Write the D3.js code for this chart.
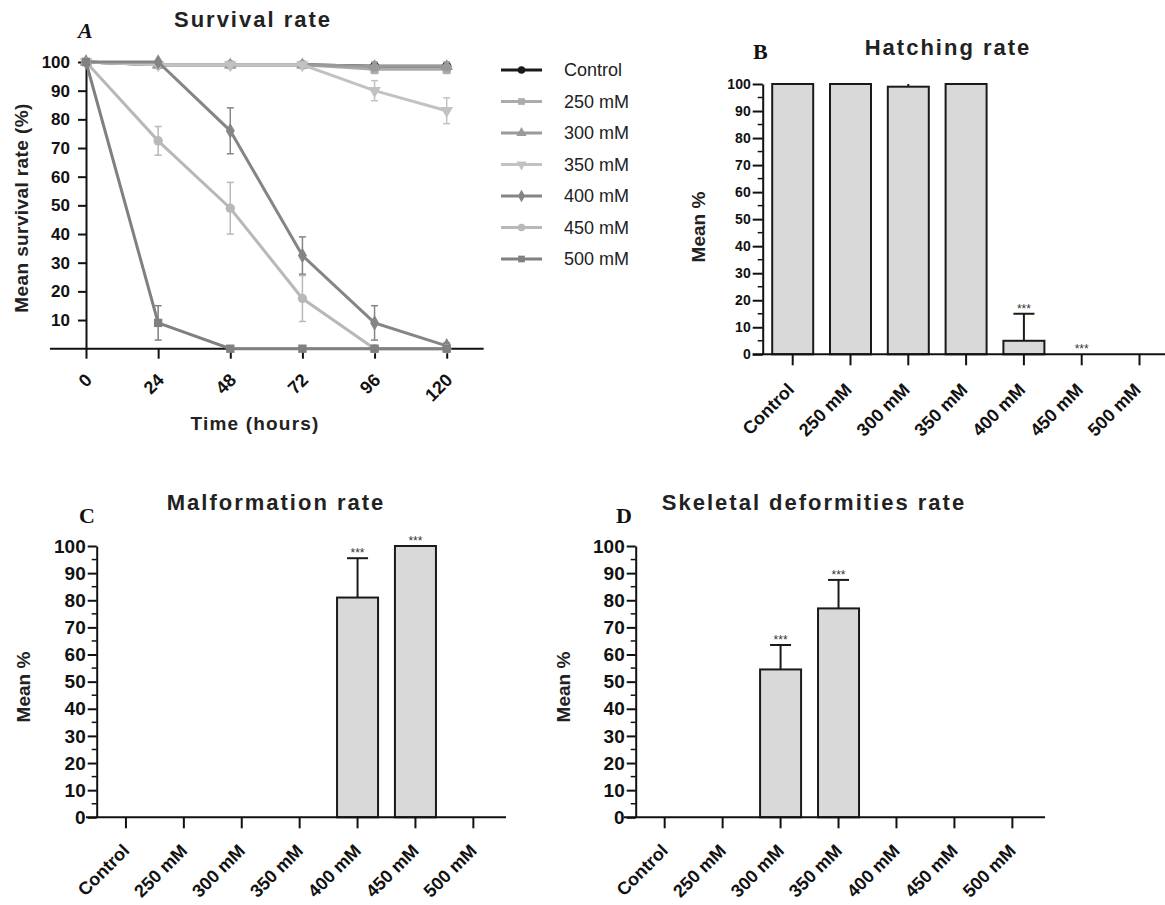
<!DOCTYPE html>
<html>
<head>
<meta charset="utf-8">
<script src="https://cdn.jsdelivr.net/npm/d3@7"></script>
<style>
  body { margin: 0; background: #fff; }
  svg { display: block; font-family: "Liberation Sans", Arial, sans-serif; }
</style>
</head>
<body>
<div id="chart"></div>
<script>
// ---- data ----
const hours = [0, 24, 48, 72, 96, 120];
const seriesNames = ["Control", "250 mM", "300 mM", "350 mM", "400 mM", "450 mM", "500 mM"];
const survControl = [100, 99, 99, 99, 98.5, 98.5];
const surv250 = [100, 99, 99, 99, 97.5, 97.5];
const surv300 = [100, 99, 99, 99, 98.5, 98.5];
const surv350 = [100, 99, 99, 99, 90, 83];
const surv400 = [100, 100, 76, 32.5, 9, 1];
const surv450 = [100, 72.5, 49, 17.5, 0, 0];
const surv500 = [100, 9, 0, 0, 0, 0];
const err250 = [0, 0, 0, 0, 1.5, 1.5];
const err300 = [0, 0, 0, 0, 1.5, 1.5];
const err350 = [0, 0, 0, 0, 3.5, 4.5];
const err400 = [0, 0, 8, 6.5, 6, 1];
const err450 = [0, 5, 9, 8, 0, 0];
const err500 = [0, 6, 0, 0, 0, 0];

const groups = ["Control", "250 mM", "300 mM", "350 mM", "400 mM", "450 mM", "500 mM"];
const hatching = [100, 100, 99, 100, 5, 0, 0];
const hatchingErr = [0, 0, 1, 0, 10, 0, 0];
const hatchingStars = ["", "", "", "", "***", "***", ""];
const malformation = [0, 0, 0, 0, 81, 100, 0];
const malformationErr = [0, 0, 0, 0, 14.5, 0, 0];
const malformationStars = ["", "", "", "", "***", "***", ""];
const skeletal = [0, 0, 54.5, 77, 0, 0, 0];
const skeletalErr = [0, 0, 9, 10.5, 0, 0, 0];
const skeletalStars = ["", "", "***", "***", "", "", ""];

const svg = d3.select("#chart").append("svg")
  .attr("width", 1165).attr("height", 905);

// ---- panel A: survival lines ----
const survival = [
  { name: "Control", vals: survControl, err: [0,0,0,0,0,0], color: "#1a1a1a", shape: d3.symbolCircle },
  { name: "250 mM", vals: surv250, err: err250, color: "#acacac", shape: d3.symbolSquare },
  { name: "300 mM", vals: surv300, err: err300, color: "#9a9a9a", shape: d3.symbolTriangle },
  { name: "350 mM", vals: surv350, err: err350, color: "#c2c2c2", shape: d3.symbolTriangle, flip: true },
  { name: "400 mM", vals: surv400, err: err400, color: "#858585", shape: d3.symbolDiamond },
  { name: "450 mM", vals: surv450, err: err450, color: "#b8b8b8", shape: d3.symbolCircle },
  { name: "500 mM", vals: surv500, err: err500, color: "#808080", shape: d3.symbolSquare }
];

const xA = d3.scaleLinear().domain([0, 120]).range([86, 446.7]);
const yA = d3.scaleLinear().domain([0, 100]).range([348.7, 62]);
const gA = svg.append("g");

// axes
gA.append("line").attr("x1", xA(-12)).attr("x2", xA(132.3))
  .attr("y1", yA(0)).attr("y2", yA(0)).attr("stroke", "#111").attr("stroke-width", 2);
const xAxisA = gA.append("g").attr("transform", `translate(0,${yA(0)})`)
  .call(d3.axisBottom(xA).tickValues(hours).tickSize(10).tickSizeOuter(0).tickFormat(d3.format("d")));
xAxisA.select(".domain").remove();
xAxisA.selectAll(".tick line").attr("stroke", "#111").attr("stroke-width", 2);
xAxisA.selectAll(".tick text")
  .attr("transform", "translate(2,28) rotate(-45)")
  .attr("text-anchor", "end").attr("dy", "0.35em").attr("x", 0).attr("y", 0)
  .style("font-size", "18px").style("font-weight", "bold").attr("fill", "#111");

const yAxisA = gA.append("g").attr("transform", `translate(${xA(0)},0)`)
  .call(d3.axisLeft(yA).tickValues(d3.range(10, 101, 10)).tickSize(8).tickSizeOuter(0));
yAxisA.select(".domain").attr("stroke", "#111").attr("stroke-width", 2);
yAxisA.selectAll(".tick line").attr("stroke", "#111").attr("stroke-width", 2);
yAxisA.selectAll(".tick text").attr("x", -16)
  .style("font-size", "17px").style("font-weight", "bold").attr("fill", "#111");

const lineA = d3.line().x((d, i) => xA(hours[i])).y(d => yA(d));
survival.forEach(s => {
  const g = gA.append("g");
  // error bars
  s.vals.forEach((v, i) => {
    const e = s.err[i];
    if (!e) return;
    const cx = xA(hours[i]);
    g.append("line").attr("x1", cx).attr("x2", cx).attr("y1", yA(v - e)).attr("y2", yA(v + e))
      .attr("stroke", s.color).attr("stroke-width", 1.5);
    [v - e, v + e].forEach(t => g.append("line").attr("x1", cx - 3.5).attr("x2", cx + 3.5)
      .attr("y1", yA(t)).attr("y2", yA(t)).attr("stroke", s.color).attr("stroke-width", 1.5));
  });
  g.append("path").datum(s.vals).attr("d", lineA).attr("fill", "none")
    .attr("stroke", s.color).attr("stroke-width", 3);
  g.selectAll("path.pt").data(s.vals).join("path").attr("class", "pt")
    .attr("d", d3.symbol().type(s.shape).size(70))
    .attr("transform", (d, i) => `translate(${xA(hours[i])},${yA(d)})` + (s.flip ? " rotate(180)" : ""))
    .attr("fill", s.color);
});

// legend
const legend = gA.append("g");
survival.forEach((s, i) => {
  const ly = 70 + i * 31.5;
  legend.append("line").attr("x1", 501).attr("x2", 542).attr("y1", ly).attr("y2", ly)
    .attr("stroke", s.color).attr("stroke-width", 3);
  legend.append("path").attr("d", d3.symbol().type(s.shape).size(45))
    .attr("transform", `translate(521.5,${ly})` + (s.flip ? " rotate(180)" : ""))
    .attr("fill", s.color);
  legend.append("text").attr("x", 564).attr("y", ly).attr("dy", "0.35em")
    .style("font-size", "18px").attr("fill", "#222").text(seriesNames[i]);
});

gA.append("text").attr("x", 253).attr("y", 27).attr("text-anchor", "middle")
  .style("font-size", "22px").style("font-weight", "bold").style("letter-spacing", "2px")
  .attr("fill", "#222").text("Survival rate");
gA.append("text").attr("x", 78).attr("y", 38)
  .style("font-family", "'Liberation Serif', serif").style("font-size", "22px")
  .style("font-weight", "bold").style("font-style", "italic").attr("fill", "#111").text("A");
gA.append("text").attr("transform", "translate(28,208) rotate(-90)").attr("text-anchor", "middle")
  .style("font-size", "19px").style("font-weight", "bold").style("letter-spacing", "0.4px")
  .attr("fill", "#222").text("Mean survival rate (%)");
gA.append("text").attr("x", 255).attr("y", 430).attr("text-anchor", "middle")
  .style("font-size", "19px").style("font-weight", "bold").style("letter-spacing", "1.2px")
  .attr("fill", "#222").text("Time (hours)");

// ---- bar panels ----
function barPanel(o) {
  const g = svg.append("g");
  const x = d3.scaleBand().domain(groups).range([o.x0, o.x0 + o.step * groups.length]).padding(0);
  const y = d3.scaleLinear().domain([0, 100]).range([o.yBase, o.yTop]);
  const bw = 41;

  // minor ticks
  g.selectAll("line.minor").data(d3.range(5, 100, 10)).join("line").attr("class", "minor")
    .attr("x1", o.yAxisX - o.minor).attr("x2", o.yAxisX).attr("y1", d => y(d)).attr("y2", d => y(d))
    .attr("stroke", "#111").attr("stroke-width", 1.5);
  const ya = g.append("g").attr("transform", `translate(${o.yAxisX},0)`)
    .call(d3.axisLeft(y).tickValues(d3.range(0, 101, 10)).tickSize(o.major).tickSizeOuter(0));
  ya.select(".domain").attr("stroke", "#111").attr("stroke-width", 2);
  ya.selectAll(".tick line").attr("stroke", "#111").attr("stroke-width", 2);
  ya.selectAll(".tick text").attr("x", -o.major - 2)
    .style("font-size", o.yFont).style("font-weight", "bold").attr("fill", "#111");

  // bars
  g.selectAll("rect.bar").data(o.values).join("rect").attr("class", "bar")
    .attr("x", (d, i) => x(groups[i]) + x.bandwidth() / 2 - bw / 2)
    .attr("width", bw)
    .attr("y", d => y(d)).attr("height", d => y(0) - y(d))
    .attr("fill", "#d9d9d9").attr("stroke", "#1a1a1a").attr("stroke-width", 2)
    .style("display", d => d > 0 ? null : "none");

  // error bars
  o.values.forEach((v, i) => {
    const e = o.errs[i];
    const cx = x(groups[i]) + x.bandwidth() / 2;
    if (e) {
      g.append("line").attr("x1", cx).attr("x2", cx).attr("y1", y(v)).attr("y2", y(v + e))
        .attr("stroke", "#1a1a1a").attr("stroke-width", 2);
      if (e > 2) {
        g.append("line").attr("x1", cx - 10.5).attr("x2", cx + 10.5)
          .attr("y1", y(v + e)).attr("y2", y(v + e)).attr("stroke", "#1a1a1a").attr("stroke-width", 2);
      }
    }
    if (o.stars[i]) {
      g.append("text").attr("x", cx).attr("y", y(v + e) - 1).attr("text-anchor", "middle")
        .style("font-size", "12px").attr("fill", "#333").text(o.stars[i]);
    }
  });

  // x axis
  g.append("line").attr("x1", o.xAxisStart).attr("x2", o.xAxisEnd)
    .attr("y1", y(0)).attr("y2", y(0)).attr("stroke", "#111").attr("stroke-width", 2);
  const xa = g.append("g").attr("transform", `translate(0,${y(0)})`)
    .call(d3.axisBottom(x).tickSize(11).tickSizeOuter(0));
  xa.select(".domain").remove();
  xa.selectAll(".tick line").attr("stroke", "#111").attr("stroke-width", 2);
  xa.selectAll(".tick text")
    .attr("transform", `translate(${o.lblDx},${o.lblDy}) rotate(-45)`)
    .attr("text-anchor", "end").attr("dy", "0.35em").attr("x", 0).attr("y", 0)
    .style("font-size", o.xFont).style("font-weight", "bold").attr("fill", "#111");

  g.append("text").attr("x", o.titleX).attr("y", o.titleY).attr("text-anchor", "middle")
    .style("font-size", "22px").style("font-weight", "bold").style("letter-spacing", "2px")
    .attr("fill", "#222").text(o.title);
  g.append("text").attr("x", o.letterX).attr("y", o.letterY)
    .style("font-family", "'Liberation Serif', serif").style("font-size", "22px")
    .style("font-weight", "bold").attr("fill", "#111").text(o.letter);
  g.append("text").attr("transform", `translate(${o.labelX},${o.labelY}) rotate(-90)`)
    .attr("text-anchor", "middle").style("font-size", "19px").style("font-weight", "bold")
    .attr("fill", "#222").text("Mean %");
}

barPanel({
  values: hatching, errs: hatchingErr, stars: hatchingStars,
  x0: 763.8, step: 57.8, yBase: 354.3, yTop: 84, yAxisX: 762.7, major: 10, minor: 5,
  xAxisStart: 752.7, xAxisEnd: 1165, yFont: "14px", xFont: "18px", lblDx: -2, lblDy: 32,
  title: "Hatching rate", titleX: 948, titleY: 55, letter: "B", letterX: 753, letterY: 59,
  labelX: 705, labelY: 227
});
barPanel({
  values: malformation, errs: malformationErr, stars: malformationStars,
  x0: 97, step: 57.9, yBase: 817.3, yTop: 546, yAxisX: 96.7, major: 9, minor: 5,
  xAxisStart: 86, xAxisEnd: 506, yFont: "19px", xFont: "18px", lblDx: 0, lblDy: 30,
  title: "Malformation rate", titleX: 276, titleY: 510, letter: "C", letterX: 79, letterY: 523,
  labelX: 30, labelY: 687
});
barPanel({
  values: skeletal, errs: skeletalErr, stars: skeletalStars,
  x0: 635.7, step: 57.95, yBase: 817.3, yTop: 546, yAxisX: 635.7, major: 9, minor: 5,
  xAxisStart: 624, xAxisEnd: 1045, yFont: "19px", xFont: "18px", lblDx: 0, lblDy: 30,
  title: "Skeletal deformities rate", titleX: 814, titleY: 510, letter: "D", letterX: 616, letterY: 523,
  labelX: 570, labelY: 687
});
</script>
</body>
</html>
